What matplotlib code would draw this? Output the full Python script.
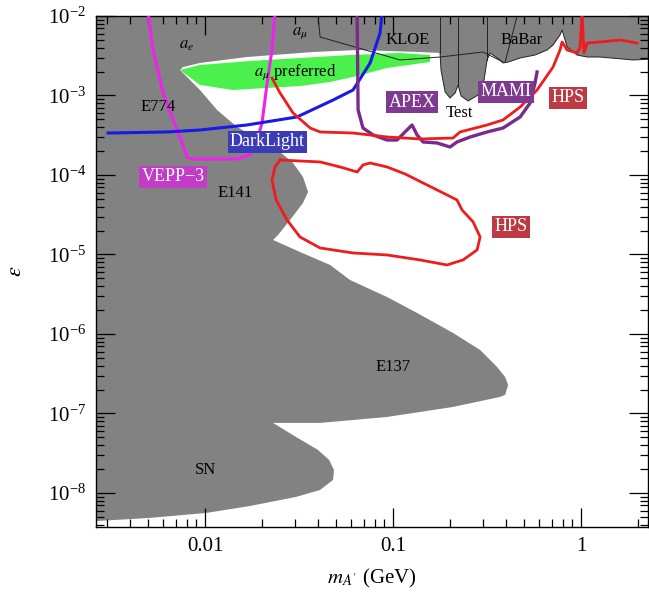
import numpy as np
import matplotlib.pyplot as plt
from matplotlib.ticker import LogLocator, NullFormatter

plt.rcParams['font.family'] = ['Liberation Serif', 'DejaVu Serif']
plt.rcParams['mathtext.fontset'] = 'stix'

# every curve is stored as log10(m_A' / GeV), log10(epsilon)

# lower edge of the excluded band at the top (a_e, a_mu, KLOE, Test, BaBar), right to left
band_logm = [0.50, 0.277, 0.101, 0.032, -0.021, -0.074, -0.101, -0.112, -0.149, -0.181, -0.245,
             -0.324, -0.388, -0.415, -0.431, -0.484, -0.500, -0.516, -0.548, -0.601, -0.638,
             -0.654, -0.670, -0.697, -0.723, -0.745, -0.750, -0.856, -1.191, -1.426, -1.777,
             -2.027, -2.117]
band_logeps = [-2.528, -2.553, -2.516, -2.516, -2.491, -2.390, -2.176, -2.239, -2.365, -2.428, -2.491,
               -2.528, -2.579, -2.591, -2.553, -2.465, -2.553, -2.805, -2.994, -3.069, -3.006,
               -2.868, -2.969, -3.031, -2.956, -2.679, -2.465, -2.453, -2.428, -2.453, -2.516,
               -2.591, -2.642]

# beam dump (E774, E141, E137) and supernova edge, top to bottom
dump_logm = [-2.133, -2.027, -1.936, -1.830, -1.707, -1.601, -1.532, -1.479, -1.452, -1.479,
             -1.548, -1.612, -1.638, -1.495, -1.335, -1.229, -1.032, -0.872, -0.681, -0.537,
             -0.447, -0.404, -0.388, -0.404, -0.431, -0.681, -1.032, -1.388, -1.638, -1.516,
             -1.399, -1.340, -1.314, -1.319, -1.388, -1.516, -1.761, -1.995, -2.293, -2.70]
dump_logeps = [-2.679, -2.931, -3.182, -3.396, -3.560, -3.711, -3.849, -4.025, -4.214, -4.352,
               -4.566, -4.755, -4.818, -4.969, -5.132, -5.321, -5.535, -5.736, -5.987, -6.201,
               -6.415, -6.541, -6.642, -6.767, -6.792, -6.918, -7.044, -7.119, -7.119, -7.296,
               -7.459, -7.585, -7.711, -7.836, -7.962, -8.050, -8.164, -8.252, -8.314, -8.37]

amu_logm = [-2.133, -2.027, -1.761, -1.495, -1.229, -0.963, -0.803, -0.803, -1.032, -1.213,
            -1.335, -1.495, -1.761, -1.851, -2.027]
amu_logeps = [-2.679, -2.616, -2.566, -2.528, -2.491, -2.465, -2.491, -2.579, -2.654, -2.767,
              -2.830, -2.881, -2.918, -2.931, -2.868]

kloe_logm = [-1.399, -1.388, -0.963, -0.750, -0.521, -0.415]
kloe_logeps = [-2.0, -2.264, -2.553, -2.516, -2.453, -2.579]
babar_logm = [-0.340, -0.404]
babar_logeps = [-2.0, -2.579]
test_walls_logm = [-0.750, -0.654, -0.500]
test_walls_bottom = [-2.465, -2.868, -2.553]

vepp_logm = [-2.303, -2.277, -2.223, -2.170, -2.122, -2.096, -2.064, -1.830, -1.761, -1.734,
             -1.697, -1.670, -1.644, -1.628]
vepp_logeps = [-1.962, -2.428, -2.969, -3.308, -3.597, -3.774, -3.799, -3.799, -3.748, -3.648,
               -3.346, -2.843, -2.428, -1.962]

darklight_logm = [-2.516, -2.202, -2.027, -1.777, -1.511, -1.319, -1.213, -1.122, -1.069, -1.059]
darklight_logeps = [-3.472, -3.459, -3.434, -3.371, -3.270, -3.057, -2.931, -2.591, -2.214, -1.962]

apex_logm = [-1.191, -1.186, -1.160, -1.106, -1.032, -0.979, -0.926, -0.899, -0.872, -0.840,
             -0.766, -0.697, -0.660, -0.590, -0.500, -0.415, -0.324, -0.271, -0.245, -0.234]
apex_logeps = [-1.962, -3.182, -3.409, -3.497, -3.560, -3.560, -3.434, -3.371, -3.497, -3.585,
               -3.597, -3.648, -3.585, -3.522, -3.459, -3.409, -3.270, -3.094, -2.843, -2.704]

hps_logm = [-1.644, -1.601, -1.532, -1.441, -1.388, -1.213, -1.032, -0.856, -0.681, -0.644,
            -0.500, -0.415, -0.324, -0.234, -0.149, -0.112, -0.101, -0.074, -0.021, -0.005,
            0.005, 0.016, 0.032, 0.101, 0.207, 0.298]
hps_logeps = [-2.780, -2.969, -3.220, -3.409, -3.459, -3.472, -3.522, -3.547, -3.535, -3.459,
              -3.371, -3.308, -3.145, -2.931, -2.642, -2.428, -2.327, -2.428, -2.465, -2.390,
              -1.962, -2.465, -2.340, -2.327, -2.302, -2.340]

hps_vtx_logm = [-1.601, -1.495, -1.388, -1.282, -1.191, -1.160, -1.122, -1.032, -0.936, -0.872,
                -0.734, -0.660, -0.633, -0.574, -0.537, -0.553, -0.628, -0.713, -0.856, -1.032,
                -1.213, -1.388, -1.495, -1.564, -1.622, -1.644, -1.628, -1.601]
hps_vtx_logeps = [-3.811, -3.824, -3.836, -3.899, -3.962, -3.874, -3.849, -3.899, -3.987, -4.063,
                  -4.226, -4.314, -4.440, -4.591, -4.780, -4.943, -5.069, -5.132, -5.069, -5.006,
                  -4.981, -4.918, -4.780, -4.566, -4.314, -4.063, -3.899, -3.811]

GRAY = '#828282'
RED = '#ee1c1c'


def p(a):
    return 10.0 ** np.asarray(a, dtype=float)


fig = plt.figure(figsize=(6.49, 5.98), dpi=100)
ax = fig.add_axes([96 / 649, 1 - 527 / 598, 552 / 649, 511 / 598])
ax.set_xscale('log')
ax.set_yscale('log')

# the whole frame is excluded except the open window between the top band
# and the beam dump / supernova edge, which is painted white
ax.set_facecolor(GRAY)
open_m = band_logm + dump_logm + [-2.7, 0.5]
open_e = band_logeps + dump_logeps + [-8.6, -8.6]
ax.fill(p(open_m), p(open_e), facecolor='white', edgecolor='none', zorder=1)
ax.fill(p(amu_logm), p(amu_logeps), color='#4cf04c', lw=0, zorder=2)

# thin black outlines inside the top band
ax.plot(p(band_logm[:27]), p(band_logeps[:27]), color='#222222', lw=0.7, zorder=3)
ax.plot(p(kloe_logm), p(kloe_logeps), color='#222222', lw=0.7, zorder=3)
ax.plot(p(babar_logm), p(babar_logeps), color='#222222', lw=0.7, zorder=3)
for m, lo in zip(test_walls_logm, test_walls_bottom):
    ax.plot(p([m, m]), p([-2.0, lo]), color='#222222', lw=0.7, zorder=3)

ax.plot(p(vepp_logm), p(vepp_logeps), color='#ee22ee', lw=2.2, zorder=4)
ax.plot(p(darklight_logm), p(darklight_logeps), color='#1a1ae6', lw=2.2, zorder=4)
ax.plot(p(hps_logm), p(hps_logeps), color=RED, lw=2.0, zorder=5)
ax.plot(p(apex_logm), p(apex_logeps), color='#7b2a8c', lw=2.4, zorder=4)
ax.plot(p(hps_vtx_logm), p(hps_vtx_logeps), color=RED, lw=2.0, zorder=5)

ax.set_xlim(2.63e-3, 2.27)
ax.set_ylim(3.73e-9, 1e-2)

# plain region labels
txt = dict(fontsize=12, ha='center', va='center', zorder=6)
ax.text(0.00802, 4.31e-3, r'$a_e$', **txt)
ax.text(0.0320, 6.1e-3, r'$a_\mu$', **txt)
ax.text(0.0301, 1.98e-3, r'$a_\mu$ preferred', **txt)
ax.text(0.120, 4.99e-3, 'KLOE', **txt)
ax.text(0.485, 4.99e-3, 'BaBar', **txt)
ax.text(0.00562, 7.16e-4, 'E774', **txt)
ax.text(0.01445, 5.94e-5, 'E141', **txt)
ax.text(0.1, 3.85e-7, 'E137', **txt)
ax.text(0.0101, 1.95e-8, 'SN', **txt)
ax.text(0.227, 6.03e-4, 'Test', **txt)


def boxed(x, y, s, fc):
    ax.text(x, y, s, fontsize=13, color='white', ha='center', va='center', zorder=7,
            bbox=dict(boxstyle='square,pad=0.12', fc=fc, ec='none'))


boxed(0.0214, 2.6e-4, 'DarkLight', '#3b3bb6')
boxed(0.00676, 9.44e-5, 'VEPP\u22123', '#c23cc8')
boxed(0.126, 8.28e-4, 'APEX', '#7d3a8e')
boxed(0.399, 1.11e-3, 'MAMI', '#7d3a8e')
boxed(0.853, 9.3e-4, 'HPS', '#bc3a44')
boxed(0.425, 2.22e-5, 'HPS', '#bc3a44')

ax.set_xticks([0.01, 0.1, 1])
ax.set_xticklabels(['0.01', '0.1', '1'])
ax.xaxis.set_minor_locator(LogLocator(base=10, subs=np.arange(2, 10)))
ax.xaxis.set_minor_formatter(NullFormatter())
ax.set_yticks([1e-8, 1e-7, 1e-6, 1e-5, 1e-4, 1e-3, 1e-2])
ax.yaxis.set_minor_locator(LogLocator(base=10, subs=np.arange(2, 10), numticks=12))
ax.yaxis.set_minor_formatter(NullFormatter())
ax.tick_params(which='both', direction='in', top=True, right=True, labelsize=15, width=0.9)
ax.tick_params(which='major', length=14, pad=7)
ax.tick_params(which='minor', length=6)
for s in ax.spines.values():
    s.set_linewidth(1.0)

ax.set_xlabel(r"$m_{A'}$ (GeV)", fontsize=15, labelpad=8)
ax.set_ylabel(r'$\epsilon$', fontsize=16, labelpad=16)

fig.savefig('out.png', dpi=100)
